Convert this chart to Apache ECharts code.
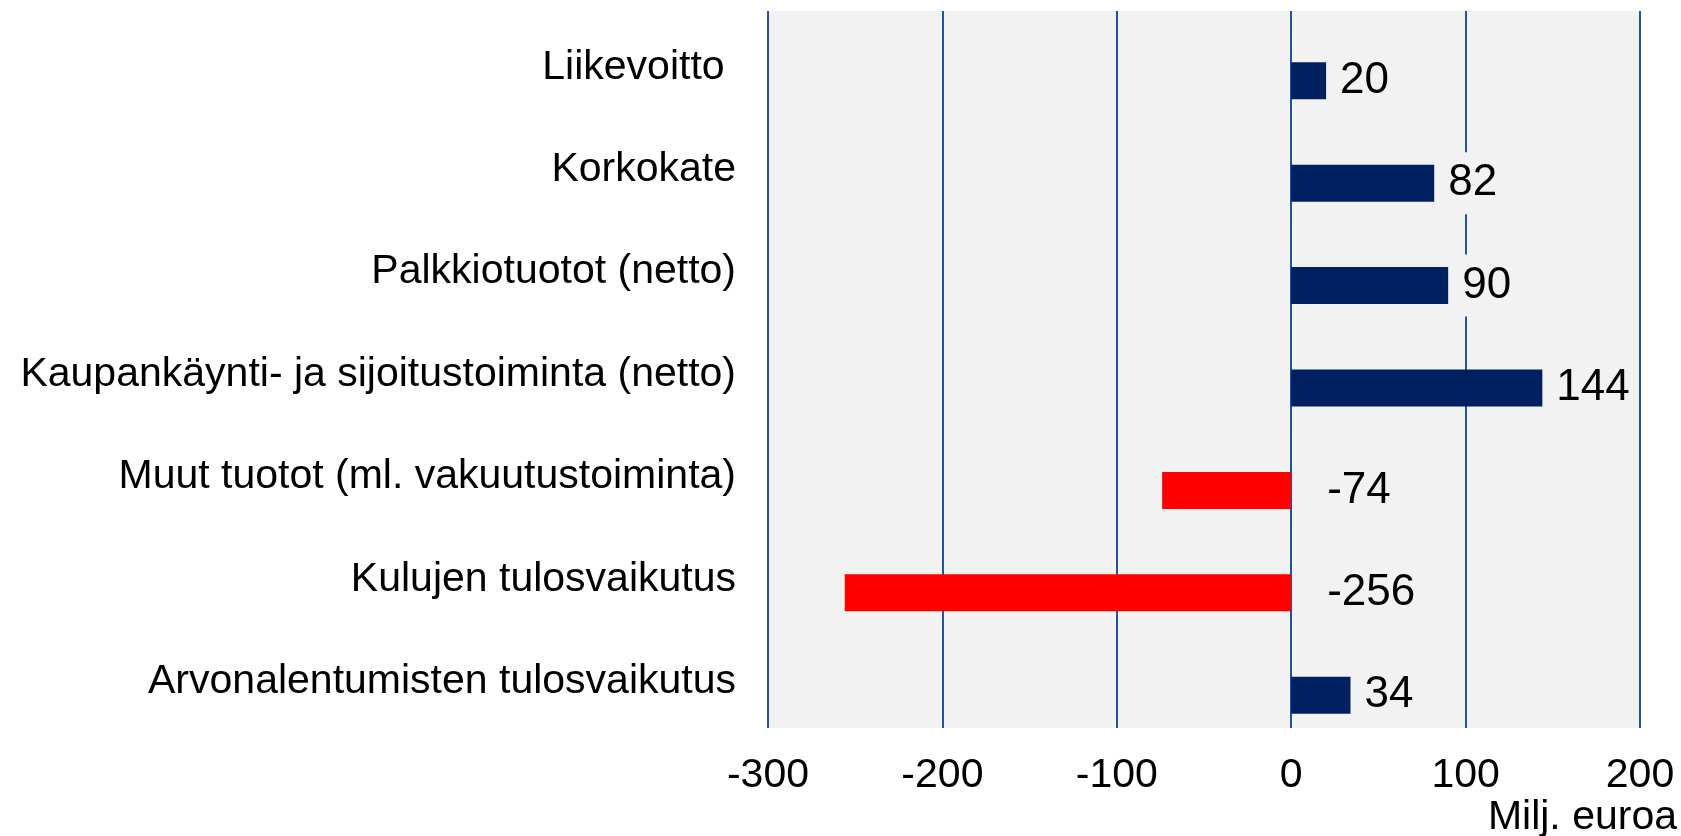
<!DOCTYPE html>
<html>
<head>
<meta charset="utf-8">
<script src="https://cdn.jsdelivr.net/npm/echarts@6/dist/echarts.min.js"></script>
<style>
  html, body { margin: 0; padding: 0; background: #fff; }
  #chart { width: 1681px; height: 836px; }
</style>
</head>
<body>
<div id="chart"></div>
<script>
// luokat ylhäältä alas
var categories = ['Liikevoitto ', 'Korkokate', 'Palkkiotuotot (netto)',
  'Kaupankäynti- ja sijoitustoiminta (netto)', 'Muut tuotot (ml. vakuutustoiminta)',
  'Kulujen tulosvaikutus', 'Arvonalentumisten tulosvaikutus'];
var values = [20, 82, 90, 144, -74, -256, 34];
var xTicks = [-300, -200, -100, 0, 100, 200];

var font = 'Liberation Sans, Arial, sans-serif';
var chart = echarts.init(document.getElementById('chart'));

var barData = values.map(function (v) {
  return {
    value: v,
    itemStyle: { color: v < 0 ? '#FF0000' : '#00205F' },
    label: { distance: v < 0 ? 32 : 10 }
  };
});

chart.setOption({
  animation: false,
  title: {
    text: 'Milj. euroa',
    right: 4,
    top: 797,
    padding: 0,
    textStyle: { fontFamily: font, fontSize: 41, fontWeight: 'normal', color: '#000' }
  },
  grid: {
    left: 768, right: 41, top: 11, bottom: 108,
    show: true, backgroundColor: '#F2F2F2', borderWidth: 0
  },
  xAxis: {
    type: 'value',
    min: xTicks[0],
    max: xTicks[xTicks.length - 1],
    interval: 100,
    axisLine: { show: false },
    axisTick: { show: false },
    axisLabel: { fontFamily: font, fontSize: 41, color: '#000', margin: 27 },
    splitLine: { show: true, lineStyle: { color: '#2152A3', width: 2 } }
  },
  yAxis: {
    type: 'category',
    data: categories,
    inverse: true,
    axisLine: { show: false },
    axisTick: { show: false },
    axisLabel: {
      margin: 32,
      formatter: function (v) { return '{c|' + v + '}'; },
      rich: { c: { fontFamily: font, fontSize: 41, color: '#000', padding: [10, 0, 0, 0] } }
    }
  },
  series: [
    {
      type: 'bar',
      data: categories.map(function () { return null; }),
      barWidth: 37,
      barGap: '0%',
      silent: true
    },
    {
      type: 'bar',
      data: barData,
      barWidth: 37,
      barGap: '0%',
      label: {
        show: true,
        position: 'right',
        fontFamily: font,
        fontSize: 44,
        color: '#000',
        backgroundColor: '#F2F2F2',
        padding: [13, 4, 5, 4]
      }
    }
  ]
});
</script>
</body>
</html>
